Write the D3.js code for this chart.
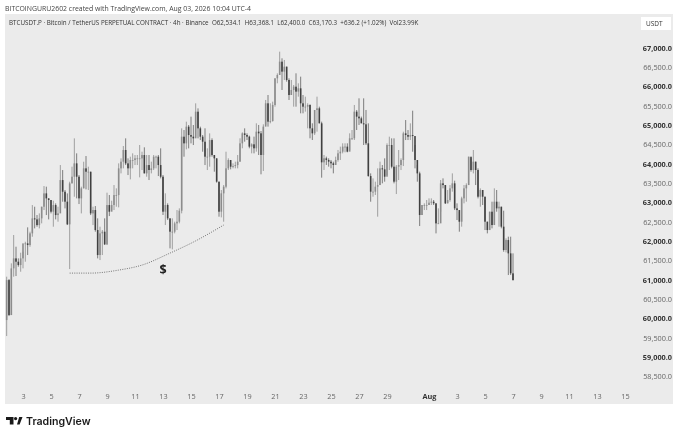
<!DOCTYPE html>
<html><head><meta charset="utf-8">
<script src="https://cdn.jsdelivr.net/npm/d3@7"></script>
<style>html,body{margin:0;padding:0;background:#fff}svg{display:block;filter:blur(0.3px)}text{font-family:"Open Sans",sans-serif}</style>
</head><body><div id="c"></div>
<script>
const firstOpen = 59957;
const closes = [60992,60086,61295,61553,61467,61381,61553,61942,61942,61899,62201,62589,62563,62416,62589,62891,63236,63107,63064,62762,62934,62675,62718,63581,63279,63021,62434,63495,63668,64013,63668,63107,63366,63884,63797,63797,62718,62805,62287,61640,62201,62244,61916,62934,62762,62934,63193,63193,63884,
64057,64359,64013,63884,64100,64100,64143,64143,64143,64229,63754,63970,63841,63884,64186,64186,63970,63668,62762,62935,62589,62244,62244,62460,62503,62788,64704,64531,64963,64747,64704,64661,65351,64920,64704,64574,64186,64186,64617,64229,64143,63539,62762,63237,63409,63884,64100,63927,63944,63970,64057,
64532,64791,64748,64705,64446,64506,64403,64834,64791,64230,64964,65568,65093,65110,65525,66215,66301,66646,66388,66517,66172,65783,65913,65999,65870,65956,65568,65481,65481,65525,64920,64791,65395,65438,65050,64040,64144,64101,64057,64014,63971,64101,64273,64316,64446,64446,64316,64662,64662,65352,65223,65179,65050,65024,64532,
63685,63280,63280,63409,63452,63884,63858,63668,64488,64488,63927,63539,63927,63970,64100,64790,64747,64704,64747,64721,64100,63754,62676,62935,62935,62935,62995,63021,62978,62460,62460,63496,63452,62978,63064,63366,63496,62848,62805,62503,63107,63366,63452,64186,63841,64057,63841,63150,63323,63150,62503,62287,62762,62417,63021,62848,62891,62374,61770,62028,61683,61166,60993];
const highs = [61079,61018,61424,62158,61855,61553,61700,61726,61985,62356,62244,62934,62891,62675,62718,62891,63426,63409,63107,63064,63046,62977,62891,63970,63840,63323,63236,63538,63927,64660,64272,63711,63409,64056,64203,63927,63797,62891,62908,62589,62373,62287,62589,63254,63193,63046,63452,63366,64013,
64143,64462,64661,64143,64186,64272,64229,64229,64488,64315,64428,64229,64229,64057,64229,64212,64229,64402,63711,63237,62978,62589,62589,62503,62805,62848,64920,64876,65092,65006,65222,65006,65567,65437,64963,64747,64920,64402,64790,64661,64229,64143,63539,63323,63452,64315,64143,64013,64013,64057,64229,
64662,64817,64920,64791,64731,64532,64705,65050,65007,64851,65024,65654,65783,65568,65611,66215,66344,66905,66733,66690,66517,66215,66172,66042,66344,66086,66258,65783,65740,65568,65542,65050,65136,65740,65481,65093,64230,64187,64144,64101,64057,64187,64360,64446,64532,64532,64532,64791,64877,65525,65395,65697,65223,65697,65395,
65049,63754,63625,63539,63884,64057,63970,64143,64531,64704,64661,64661,63970,64359,64143,64833,65135,64876,65049,65377,64488,63970,63798,62935,62978,63064,63107,63107,63064,62978,62848,63582,63625,63452,63323,63452,63754,63565,62978,62762,63150,63452,63496,64186,64143,64359,64057,63884,63366,63323,63150,62503,62762,63021,63366,63323,63021,62891,62788,62072,62115,62115,61683];
const lows = [59543,60060,60086,61079,61096,61338,61208,61295,61467,61640,61855,62114,62330,62373,62330,62460,62805,62675,62563,62718,62373,62563,62503,62805,63021,62848,62416,61277,63495,63150,63107,62960,62718,63366,63340,63323,62675,62416,62244,61553,61510,61640,61899,61899,62649,62805,62805,62891,62874,
63754,63884,63970,63711,63599,63884,63970,63970,63651,63841,63754,63668,63582,63754,63841,63884,63685,63625,62676,62417,62546,61813,61787,62201,62287,62460,62719,64186,64376,64402,64531,64488,64704,64661,64617,64315,63970,63841,63927,64186,63798,63513,62633,62615,62503,63366,63841,63858,63884,63884,63884,
64057,64403,64575,64618,64403,64273,64273,64316,64230,63730,63816,65007,64964,65050,65093,65481,66086,66301,65913,66172,66129,65654,65783,65481,65481,65740,65309,65309,65352,64920,64662,64618,64748,64834,65050,63643,63842,63971,63928,63885,63755,63971,64057,64101,64273,64299,64299,64360,64618,64618,64877,65007,65050,64489,64489,
63668,63021,63150,63194,62633,63452,63496,63539,63711,63841,63884,63496,63219,63582,63841,63944,64617,64617,64617,64315,63884,63539,62391,62676,62805,62805,62935,62935,62935,62201,62443,62762,63366,62961,62978,63021,63280,62805,62546,62244,62374,62978,63021,63452,63798,63754,63452,63107,62891,62935,62287,62201,62287,62331,62417,62762,62374,62331,61726,61709,61122,61122,60976];
const arcIndex = [27,36,48,58,70,80,93];
const arcPrice = [61172,61172,61250,61380,61690,61975,62416];
const priceTicks = [67000,66500,66000,65500,65000,64500,64000,63500,63000,62500,62000,61500,61000,60500,60000,59500,59000,58500];
const dayTicks = ["2026-07-03","2026-07-05","2026-07-07","2026-07-09","2026-07-11","2026-07-13","2026-07-15","2026-07-17","2026-07-19","2026-07-21","2026-07-23","2026-07-25","2026-07-27","2026-07-29","2026-08-01","2026-08-03","2026-08-05","2026-08-07","2026-08-09","2026-08-11","2026-08-13","2026-08-15"];
const candleStart = Date.UTC(2026,6,1,20);
const candleStep = 4*3600*1000;
const creditText = "BITCOINGURU2602 created with TradingView.com, Aug 03, 2026 10:04 UTC-4";
const titleText = "BTCUSDT.P · Bitcoin / TetherUS PERPETUAL CONTRACT · 4h · Binance";
const ohlcText = "O62,534.1  H63,368.1  L62,400.0  C63,170.3  +636.2 (+1.02%)  Vol23.99K";

const W=680,H=437;
const svg=d3.select("#c").append("svg").attr("width",W).attr("height",H);
svg.append("rect").attr("width",W).attr("height",H).attr("fill","#fff");
svg.append("rect").attr("x",5).attr("y",14).attr("width",668).attr("height",390).attr("fill","#ebebeb");

const y=d3.scaleLinear().domain([67000,59000]).range([48,357]);
const x=d3.scaleUtc().domain([new Date("2026-07-03"),new Date("2026-08-15")]).range([23,625]);
const tOf=i=>new Date(candleStart+i*candleStep);
const opens=closes.map((c,i)=>i?closes[i-1]:firstOpen);
const data=closes.map((c,i)=>({i,o:opens[i],c,h:highs[i],l:lows[i]}));
const upC="#8c8c8c",dnC="#404040";
const g=svg.append("g");
g.selectAll("line.w").data(data).join("line").attr("class","w")
 .attr("x1",d=>x(tOf(d.i))).attr("x2",d=>x(tOf(d.i)))
 .attr("y1",d=>y(d.h)).attr("y2",d=>y(d.l))
 .attr("stroke",d=>d.c>=d.o?"#8c8c8c":"#606060").attr("stroke-width",0.8);
g.selectAll("rect.b").data(data).join("rect").attr("class","b")
 .attr("x",d=>x(tOf(d.i))-0.8).attr("width",1.6)
 .attr("y",d=>y(Math.max(d.o,d.c))).attr("height",d=>Math.max(0.8,Math.abs(y(d.o)-y(d.c))))
 .attr("fill",d=>d.c>=d.o?upC:dnC);

const arc=d3.line().x(d=>x(tOf(d))).y((d,i)=>y(arcPrice[i])).curve(d3.curveMonotoneX);
svg.append("path").attr("d",arc(arcIndex)).attr("fill","none").attr("stroke","#555").attr("stroke-width",0.8).attr("stroke-dasharray","1 1.3");
svg.append("text").attr("x",x(tOf(67))).attr("y",y(61150)).attr("text-anchor","middle").attr("font-size",12.5).attr("font-weight",700).attr("fill","#222").text("$");

const yAxis=d3.axisRight(y).tickValues(priceTicks).tickSize(0).tickPadding(0).tickFormat(d3.format(",.1f"));
const ya=svg.append("g").attr("transform","translate(643,0)").call(yAxis);
ya.select(".domain").remove();
ya.selectAll("text").attr("x",29).attr("text-anchor","end").attr("font-size",7.3)
 .style("font-family","'Open Sans',sans-serif")
 .attr("font-weight",d=>d%1000===0?700:400).attr("fill",d=>d%1000===0?"#333":"#666");

const fmtDay=d=>d.getUTCDate()===1?"Aug":String(d.getUTCDate());
const xAxis=d3.axisBottom(x).tickValues(dayTicks.map(s=>new Date(s))).tickSize(0).tickPadding(0).tickFormat(fmtDay);
const xa=svg.append("g").attr("transform","translate(0,397)").call(xAxis);
xa.select(".domain").remove();
xa.selectAll("text").attr("y",0).attr("dy","0.32em").attr("font-size",7.3)
 .style("font-family","'Open Sans',sans-serif")
 .attr("font-weight",d=>d.getUTCDate()===1?700:400).attr("fill",d=>d.getUTCDate()===1?"#333":"#666");

svg.append("text").attr("x",5).attr("y",11).attr("font-size",6.9).attr("fill","#444").text(creditText);
svg.append("text").attr("x",9).attr("y",24.5).attr("font-size",6.25).attr("fill","#333").attr("xml:space","preserve").text(titleText+"  "+ohlcText);
svg.append("rect").attr("x",641).attr("y",17).attr("width",30).attr("height",13).attr("fill","#fff");
svg.append("text").attr("x",646).attr("y",26).attr("font-size",6.5).attr("fill","#333").text("USDT");

const logo=svg.append("g").attr("transform","translate(6,417)").attr("fill","#1a1a1a");
logo.append("path").attr("d","M0 0H7.5V7.5H3.8V3H0Z");
logo.append("circle").attr("cx",9.6).attr("cy",1.6).attr("r",1.6);
logo.append("path").attr("d","M11 7.5L13.2 0H16.5L13.6 7.5Z");
svg.append("text").attr("x",26).attr("y",425).attr("font-size",10.6).attr("font-weight",600).attr("fill","#1a1a1a").style("font-family","Inter,sans-serif").text("TradingView");
</script></body></html>
